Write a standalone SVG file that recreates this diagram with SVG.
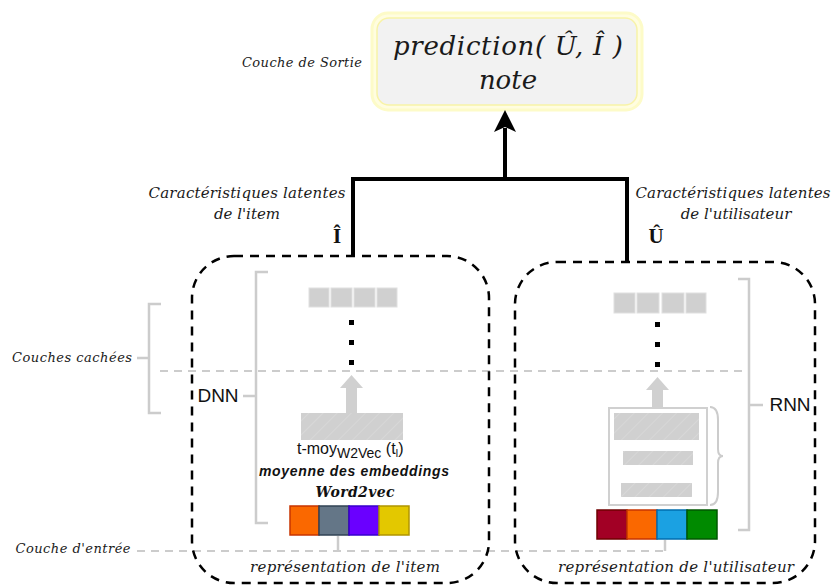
<svg xmlns="http://www.w3.org/2000/svg" width="834" height="588" viewBox="0 0 834 588">
<defs>
<pattern id="hatch" width="10" height="10" patternUnits="userSpaceOnUse" patternTransform="rotate(45)">
<rect width="10" height="10" fill="#d0d0d0"/>
<line x1="0" y1="0" x2="0" y2="10" stroke="#dadada" stroke-width="1.5"/>
</pattern>
</defs>
<style>
.ser{font-family:"DejaVu Serif","Liberation Serif",serif;font-style:italic;fill:#1a1a1a}
.sans{font-family:"Liberation Sans",Arial,sans-serif;fill:#111}
.gl{stroke:#cccccc;stroke-width:2.5;fill:none}
.gd{stroke:#cccccc;stroke-width:2;stroke-dasharray:8 6;fill:none}
.bd{stroke:#000;stroke-width:2.5;stroke-dasharray:9 7;fill:none}
.thick{stroke:#000;stroke-width:4;fill:none}
.sq{fill:#d0d0d0;stroke:#e0e0e0;stroke-width:1}
.dot{fill:#000}
</style>
<rect width="834" height="588" fill="#fff"/>

<!-- layer labels and grey guides -->
<g id="layers">
<text class="ser" x="302" y="67" font-size="13" text-anchor="middle" textLength="120">Couche de Sortie</text>
<text class="ser" x="72" y="362" font-size="13" text-anchor="middle" textLength="120">Couches cachées</text>
<text class="ser" x="73" y="553" font-size="13" text-anchor="middle" textLength="115">Couche d'entrée</text>
<path class="gl" d="M161,304 H149 V413 H161 M149,358 H137"/>
<line class="gd" x1="160" y1="371" x2="746" y2="371"/>
<line class="gd" x1="137" y1="551" x2="668" y2="551"/>
</g>

<!-- output node -->
<g id="output">
<rect x="372" y="13" width="270" height="97" rx="16" fill="#fffde0" stroke="#fdfbc8" stroke-width="3"/>
<rect x="377" y="18" width="260" height="87" rx="12" fill="#f2f2f2" stroke="#f8f3a8" stroke-width="1.5"/>
<text class="ser" x="508" y="55" font-size="26" text-anchor="middle" textLength="230">prediction( Û, Î )</text>
<text class="ser" x="508" y="89" font-size="26" text-anchor="middle">note</text>
</g>

<!-- connectors -->
<g id="connectors">
<path class="thick" d="M353,256 V179 H627 V262"/>
<line class="thick" x1="505" y1="179" x2="505" y2="128"/>
<polygon points="505,110 494,132 505,127 516,132" fill="#000"/>
<line class="gl" x1="338" y1="536" x2="338" y2="551"/>
<line class="gl" x1="665" y1="540" x2="665" y2="551"/>
</g>

<!-- latent labels -->
<g id="latent-item">
<text class="ser" x="247" y="198" font-size="15" text-anchor="middle" textLength="197">Caractéristiques latentes</text>
<text class="ser" x="247" y="219" font-size="15" text-anchor="middle">de l'item</text>
<text x="337" y="243" font-size="21" font-weight="bold" text-anchor="middle" font-family="Liberation Serif,serif" fill="#111">Î</text>
</g>
<g id="latent-user">
<text class="ser" x="733" y="198" font-size="15" text-anchor="middle" textLength="195">Caractéristiques latentes</text>
<text class="ser" x="736" y="219" font-size="15" text-anchor="middle">de l'utilisateur</text>
<text x="656" y="243" font-size="21" font-weight="bold" text-anchor="middle" font-family="Liberation Serif,serif" fill="#111">Û</text>
</g>

<!-- item DNN -->
<g id="item-dnn">
<rect class="bd" x="192" y="256" width="297" height="327" rx="42"/>
<path class="gl" d="M268,272 H256 V523 H268 M256,396 H243"/>
<text class="sans" x="218" y="402" font-size="19" text-anchor="middle">DNN</text>
<rect class="sq" x="309" y="288" width="20" height="19"/>
<rect class="sq" x="331" y="288" width="21" height="19"/>
<rect class="sq" x="354" y="288" width="21" height="19"/>
<rect class="sq" x="377" y="288" width="20" height="19"/>
<rect class="dot" x="349" y="320" width="5" height="5"/>
<rect class="dot" x="349" y="340" width="5" height="5"/>
<rect class="dot" x="349" y="360" width="5" height="5"/>
<rect x="346" y="386" width="11" height="28" fill="#d0d0d0"/>
<polygon points="351.5,375 340,388 363,388" fill="#d0d0d0"/>
<rect x="301" y="413" width="102" height="27" fill="url(#hatch)"/>
<text class="sans" x="297" y="454" font-size="16">t-moy<tspan font-size="14" dy="4">W2Vec</tspan><tspan dy="-4"> (t</tspan><tspan font-size="10" dy="3">I</tspan><tspan dy="-3">)</tspan></text>
<text class="sans" x="354" y="476" font-size="14" font-weight="bold" font-style="italic" text-anchor="middle" textLength="190">moyenne des embeddings</text>
<text x="355" y="497" font-size="14" font-weight="bold" font-style="italic" text-anchor="middle" font-family="DejaVu Serif,serif" fill="#111" textLength="79">Word2vec</text>
<rect x="290" y="506" width="29" height="29" fill="#fa6800" stroke="#c73500" stroke-width="1.5"/>
<rect x="319" y="506" width="30" height="29" fill="#647687" stroke="#314354" stroke-width="1.5"/>
<rect x="349" y="506" width="30" height="29" fill="#6a00ff" stroke="#3700cc" stroke-width="1.5"/>
<rect x="379" y="506" width="30" height="29" fill="#e3c800" stroke="#b09500" stroke-width="1.5"/>
<text class="ser" x="345" y="572" font-size="15" text-anchor="middle" textLength="190">représentation de l'item</text>
</g>

<!-- user RNN -->
<g id="user-rnn">
<rect class="bd" x="515" y="262" width="300" height="321" rx="42"/>
<path class="gl" d="M738,279 H749 V530 H738 M749,405 H763"/>
<text class="sans" x="790" y="411" font-size="19" text-anchor="middle">RNN</text>
<rect class="sq" x="614" y="293" width="21" height="20"/>
<rect class="sq" x="637" y="293" width="22" height="20"/>
<rect class="sq" x="662" y="293" width="22" height="20"/>
<rect class="sq" x="686" y="293" width="20" height="20"/>
<rect class="dot" x="655" y="322" width="5" height="5"/>
<rect class="dot" x="655" y="342" width="5" height="5"/>
<rect class="dot" x="655" y="362" width="5" height="5"/>
<rect x="652" y="388" width="11" height="21" fill="#d0d0d0"/>
<polygon points="657.5,377 646,390 669,390" fill="#d0d0d0"/>
<rect x="609" y="408" width="98" height="97" fill="#fff" stroke="#d0d0d0" stroke-width="2"/>
<rect x="614" y="413" width="85" height="27" fill="url(#hatch)"/>
<rect x="623" y="451" width="70" height="14" fill="url(#hatch)"/>
<rect x="621" y="483" width="71" height="14" fill="url(#hatch)"/>
<path d="M710,407 Q718,407 718,420 V449 Q718,456 723,456 Q718,456 718,463 V492 Q718,505 710,505" fill="none" stroke="#cccccc" stroke-width="2"/>
<rect x="597" y="510" width="30" height="29" fill="#a20025" stroke="#6f0000" stroke-width="1.5"/>
<rect x="627" y="510" width="30" height="29" fill="#fa6800" stroke="#c73500" stroke-width="1.5"/>
<rect x="657" y="510" width="30" height="29" fill="#1ba1e2" stroke="#006eaf" stroke-width="1.5"/>
<rect x="687" y="510" width="30" height="29" fill="#008a00" stroke="#005700" stroke-width="1.5"/>
<text class="ser" x="676" y="572" font-size="15" text-anchor="middle" textLength="236">représentation de l'utilisateur</text>
</g>
</svg>
